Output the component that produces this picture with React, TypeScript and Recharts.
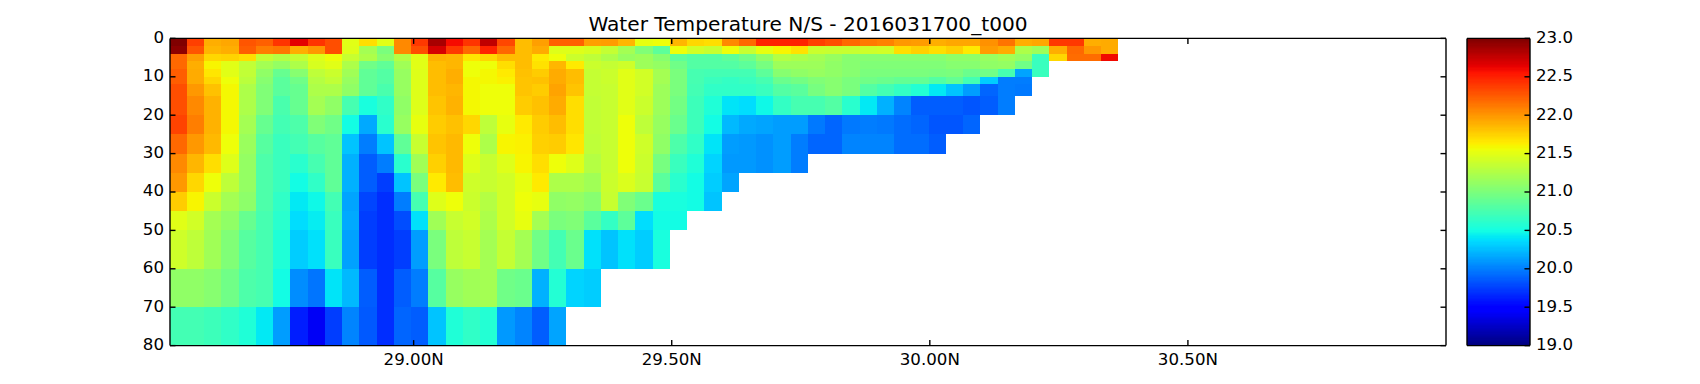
import { ComposedChart, XAxis, YAxis, ReferenceArea, Line } from "recharts";

const FONT = "DejaVu Sans";
const title = "Water Temperature N/S - 2016031700_t000";

// layer boundaries of the model, metres
const depthEdges = [0, 2, 4, 6, 8, 10, 12, 15, 20, 25, 30, 35, 40, 45, 50, 60, 70, 80];
const firstLat = 28.528;
const lastLat = 31;
const cellOrigin = 28.5271;
const latStep = 0.03342;

const latTicks = [29, 29.5, 30, 30.5];
const depthTicks = [0, 10, 20, 30, 40, 50, 60, 70, 80];
const tempTicks = [19, 19.5, 20, 20.5, 21, 21.5, 22, 22.5, 23];

// temperature per latitude column, top layer first; columns end at the sea floor
const col00 = [23.0, 22.95, 22.2, 22.2, 22.25, 22.25, 22.3, 22.3, 22.35, 22.2, 22.05, 22.0, 21.77, 21.5, 21.4, 21.1, 20.72];
const col01 = [22.37, 22.27, 21.96, 21.9, 21.92, 21.92, 22.0, 22.05, 22.1, 22.0, 21.87, 21.72, 21.6, 21.42, 21.32, 21.1, 20.72];
const col02 = [21.9, 21.87, 21.72, 21.6, 21.67, 21.72, 21.82, 21.88, 21.88, 21.85, 21.7, 21.55, 21.38, 21.2, 21.18, 21.05, 20.7];
const col03 = [21.93, 21.9, 21.75, 21.5, 21.5, 21.55, 21.58, 21.58, 21.58, 21.55, 21.47, 21.32, 21.2, 21.1, 21.02, 20.95, 20.63];
const col04 = [22.28, 22.25, 21.7, 21.33, 21.33, 21.3, 21.25, 21.25, 21.2, 21.15, 21.12, 21.12, 21.08, 20.9, 20.82, 20.78, 20.56];
const col05 = [22.23, 22.1, 21.35, 21.2, 21.1, 21.05, 21.02, 21.02, 20.9, 20.82, 20.78, 20.78, 20.78, 20.75, 20.75, 20.75, 20.42];
const col06 = [22.42, 22.13, 21.28, 21.12, 20.9, 20.83, 20.83, 20.76, 20.72, 20.68, 20.68, 20.68, 20.63, 20.6, 20.56, 20.5, 20.12];
const col07 = [22.65, 21.9, 21.35, 21.25, 21.05, 20.95, 20.9, 20.9, 20.78, 20.72, 20.6, 20.5, 20.42, 20.36, 20.3, 20.05, 19.62];
const col08 = [22.42, 22.0, 21.47, 21.45, 21.32, 21.28, 21.24, 21.2, 21.02, 20.82, 20.75, 20.63, 20.47, 20.43, 20.38, 19.96, 19.42];
const col09 = [22.3, 22.3, 21.55, 21.5, 21.38, 21.33, 21.24, 21.1, 20.95, 20.87, 20.87, 20.87, 20.72, 20.68, 20.68, 20.4, 19.75];
const col10 = [21.5, 21.47, 21.36, 21.24, 21.18, 21.14, 21.1, 20.75, 20.5, 20.28, 20.2, 20.2, 20.15, 20.17, 20.14, 20.22, 20.03];
const col11 = [21.7, 21.2, 21.24, 20.95, 20.87, 20.87, 20.87, 20.52, 20.17, 20.0, 19.87, 19.87, 19.78, 19.75, 19.75, 19.87, 19.85];
const col12 = [21.5, 21.0, 21.05, 20.87, 20.8, 20.8, 20.76, 20.63, 20.6, 20.28, 20.0, 19.75, 19.68, 19.68, 19.68, 19.68, 19.68];
const col13 = [22.05, 22.05, 21.28, 21.18, 21.14, 21.14, 21.14, 21.1, 21.14, 20.87, 20.6, 20.28, 20.0, 19.8, 19.75, 19.87, 19.9];
const col14 = [22.4, 22.3, 21.5, 21.5, 21.47, 21.47, 21.47, 21.47, 21.52, 21.36, 21.18, 21.0, 20.75, 20.38, 20.12, 20.0, 19.87];
const col15 = [22.85, 22.7, 21.88, 21.84, 21.84, 21.84, 21.84, 21.8, 21.78, 21.8, 21.76, 21.65, 21.47, 21.18, 21.0, 20.82, 20.27];
const col16 = [22.58, 22.4, 21.86, 21.86, 21.9, 21.9, 21.87, 21.88, 21.82, 21.85, 21.85, 21.84, 21.55, 21.36, 21.32, 21.14, 20.56];
const col17 = [22.42, 22.2, 21.67, 21.55, 21.55, 21.58, 21.58, 21.58, 21.72, 21.56, 21.47, 21.4, 21.38, 21.42, 21.36, 21.18, 20.64];
const col18 = [22.78, 22.5, 21.72, 21.55, 21.58, 21.58, 21.55, 21.55, 21.32, 21.25, 21.36, 21.36, 21.28, 21.24, 21.2, 21.2, 20.57];
const col19 = [22.33, 22.2, 21.84, 21.7, 21.65, 21.62, 21.56, 21.56, 21.52, 21.6, 21.48, 21.42, 21.42, 21.42, 21.35, 20.95, 20.1];
const col20 = [21.84, 21.84, 21.84, 21.84, 21.82, 21.8, 21.8, 21.78, 21.65, 21.62, 21.6, 21.53, 21.55, 21.52, 21.2, 20.92, 20.03];
const col21 = [21.96, 21.92, 21.65, 21.68, 21.78, 21.82, 21.78, 21.82, 21.78, 21.76, 21.7, 21.65, 21.53, 21.2, 20.95, 20.2, 19.87];
const col22 = [22.23, 21.47, 21.55, 21.87, 21.92, 21.92, 21.94, 21.92, 21.84, 21.78, 21.55, 21.25, 21.1, 21.0, 20.72, 20.57, 20.15];
const col23 = [22.23, 21.47, 21.38, 21.65, 21.84, 21.84, 21.8, 21.7, 21.7, 21.67, 21.48, 21.25, 21.12, 21.02, 20.92, 20.33];
const col24 = [21.96, 21.45, 21.32, 21.38, 21.35, 21.35, 21.35, 21.33, 21.33, 21.32, 21.28, 21.18, 21.05, 20.83, 20.38, 20.3];
const col25 = [21.97, 21.35, 21.25, 21.35, 21.38, 21.38, 21.36, 21.36, 21.37, 21.36, 21.36, 21.38, 21.36, 20.65, 20.27];
const col26 = [21.87, 21.2, 21.13, 21.4, 21.5, 21.5, 21.5, 21.5, 21.55, 21.55, 21.55, 21.46, 21.02, 20.85, 20.38];
const col27 = [21.52, 21.02, 21.17, 21.17, 21.42, 21.42, 21.42, 21.38, 21.32, 21.4, 21.38, 21.36, 20.92, 20.36, 20.3];
const col28 = [21.55, 20.85, 21.05, 21.12, 21.2, 21.2, 21.17, 21.17, 21.13, 21.1, 20.97, 20.83, 20.52, 20.5, 20.52];
const col29 = [21.87, 21.55, 20.85, 20.95, 21.0, 21.0, 21.0, 20.96, 20.92, 20.78, 20.68, 20.6, 20.53, 20.5];
const col30 = [21.72, 21.42, 20.8, 20.8, 20.75, 20.75, 20.72, 20.7, 20.7, 20.63, 20.56, 20.5, 20.5];
const col31 = [21.7, 21.36, 20.8, 20.8, 20.72, 20.68, 20.64, 20.56, 20.5, 20.4, 20.33, 20.3, 20.27];
const col32 = [22.05, 21.55, 20.85, 20.8, 20.72, 20.65, 20.63, 20.4, 20.22, 20.12, 20.1, 20.15];
const col33 = [22.2, 21.36, 20.95, 20.85, 20.72, 20.68, 20.63, 20.37, 20.17, 20.1, 20.1];
const col34 = [22.5, 21.52, 21.1, 20.97, 20.85, 20.75, 20.68, 20.48, 20.15, 20.07, 20.07];
const col35 = [22.5, 21.6, 21.28, 21.17, 21.05, 20.92, 20.8, 20.65, 20.12, 20.12, 20.12];
const col36 = [22.5, 21.68, 21.25, 21.17, 21.1, 20.96, 20.84, 20.75, 20.12, 20.0, 20.0];
const col37 = [22.37, 21.38, 21.2, 21.17, 21.13, 21.02, 20.97, 20.75, 19.97, 19.9];
const col38 = [22.3, 21.36, 21.13, 21.1, 21.1, 21.05, 21.05, 20.8, 19.9, 19.9];
const col39 = [22.2, 21.36, 21.05, 21.05, 21.05, 21.0, 21.0, 20.6, 19.97, 20.03];
const col40 = [22.12, 21.4, 21.05, 21.03, 21.0, 20.95, 20.8, 20.42, 20.0, 20.03];
const col41 = [22.08, 21.42, 21.05, 21.03, 21.0, 20.92, 20.72, 20.2, 19.97, 20.03];
const col42 = [22.0, 21.7, 21.05, 21.03, 21.0, 20.88, 20.65, 20.03, 19.93, 19.93];
const col43 = [21.97, 21.76, 21.05, 21.03, 21.0, 20.88, 20.57, 19.87, 19.9, 19.93];
const col44 = [21.9, 21.7, 21.05, 21.03, 20.98, 20.8, 20.42, 19.87, 19.84, 19.87];
const col45 = [21.93, 21.76, 21.1, 21.05, 21.0, 20.88, 20.27, 19.87, 19.84];
const col46 = [21.93, 21.65, 21.1, 21.05, 20.92, 20.72, 20.12, 19.84, 19.9];
const col47 = [22.03, 21.97, 21.13, 21.1, 20.95, 20.3, 19.9, 19.87];
const col48 = [22.15, 21.92, 21.18, 21.12, 20.75, 20.0, 20.0, 20.0];
const col49 = [21.9, 21.25, 21.12, 20.95, 20.15, 20.0, 19.97];
const col50 = [21.93, 21.17, 20.68, 20.68, 20.68];
const col51 = [22.4, 21.9, 21.72];
const col52 = [22.4, 22.2, 22.18];
const col53 = [21.9, 22.0, 22.18];
const col54 = [21.92, 21.92, 22.6];

const columns = [
  col00, col01, col02, col03, col04, col05, col06, col07, col08, col09, col10,
  col11, col12, col13, col14, col15, col16, col17, col18, col19, col20, col21,
  col22, col23, col24, col25, col26, col27, col28, col29, col30, col31, col32,
  col33, col34, col35, col36, col37, col38, col39, col40, col41, col42, col43,
  col44, col45, col46, col47, col48, col49, col50, col51, col52, col53, col54,
];

const V_MIN = 19;
const V_MAX = 23;

// matplotlib's jet segments
const JET_R = [[0, 0], [0.35, 0], [0.66, 1], [0.89, 1], [1, 0.5]];
const JET_G = [[0, 0], [0.125, 0], [0.375, 1], [0.64, 1], [0.91, 0], [1, 0]];
const JET_B = [[0, 0.5], [0.11, 1], [0.34, 1], [0.65, 0], [1, 0]];

function segment(stops: number[][], t: number) {
  for (let i = 1; i < stops.length; i++) {
    if (t <= stops[i][0]) {
      const [x0, y0] = stops[i - 1];
      const [x1, y1] = stops[i];
      return y0 + ((t - x0) / (x1 - x0)) * (y1 - y0);
    }
  }
  return stops[stops.length - 1][1];
}

function jet(value: number) {
  const t = Math.min(1, Math.max(0, (value - V_MIN) / (V_MAX - V_MIN)));
  const level = Math.floor(t * 255.999) / 255;
  const c = (stops: number[][]) => Math.round(segment(stops, level) * 255);
  return `rgb(${c(JET_R)},${c(JET_G)},${c(JET_B)})`;
}

const barLevels = Array.from({ length: 256 }, (_, i) => i);
const tickStyle = { fontSize: 16.67, fill: "#000", fontFamily: FONT };
const yTickStyle = { ...tickStyle, dy: -1.5 };
const lineStyle = { stroke: "#000", strokeWidth: 1.4 };
const noLabel = () => "";

// the axes only draw once the chart has data, the two corners are enough
const sectionCorners = [
  { lat: firstLat, depth: 0 },
  { lat: lastLat, depth: 80 },
];
const barCorners = [
  { x: 0, temp: V_MIN },
  { x: 1, temp: V_MAX },
];

export default function App() {
  return (
    <div style={{ position: "absolute", left: 0, top: 0, width: 1700, height: 384, background: "#fff" }}>
      <div
        style={{
          position: "absolute",
          left: 170,
          width: 1276,
          top: 12,
          textAlign: "center",
          fontFamily: FONT,
          fontSize: 20.15,
          color: "#000",
          whiteSpace: "pre",
        }}
      >
        {title}
      </div>

      <div style={{ position: "absolute", left: 0, top: 0 }}>
        <ComposedChart data={sectionCorners} width={1500} height={384} margin={{ top: 37.4, right: 53, bottom: 8.4, left: 110 }}>
          <XAxis
            type="number"
            dataKey="lat"
            domain={[firstLat, lastLat]}
            ticks={latTicks}
            interval={0}
            height={30}
            tickSize={-5.5}
            tickMargin={13.5}
            tick={tickStyle}
            axisLine={lineStyle}
            tickLine={lineStyle}
            tickFormatter={(v: number) => `${v.toFixed(2)}N`}
          />
          <XAxis
            xAxisId="top"
            orientation="top"
            type="number"
            dataKey="lat"
            domain={[firstLat, lastLat]}
            ticks={latTicks}
            interval={0}
            height={1}
            tickSize={-5.5}
            tickFormatter={noLabel}
            axisLine={lineStyle}
            tickLine={lineStyle}
          />
          <YAxis
            type="number"
            dataKey="depth"
            reversed
            domain={[0, 80]}
            ticks={depthTicks}
            interval={0}
            width={60}
            tickSize={-5.5}
            tickMargin={11.5}
            tick={yTickStyle}
            axisLine={lineStyle}
            tickLine={lineStyle}
          />
          <YAxis
            yAxisId="right"
            orientation="right"
            type="number"
            dataKey="depth"
            reversed
            domain={[0, 80]}
            ticks={depthTicks}
            interval={0}
            width={1}
            tickSize={-5.5}
            tickFormatter={noLabel}
            axisLine={lineStyle}
            tickLine={lineStyle}
          />
          <Line dataKey="depth" stroke="none" dot={false} activeDot={false} isAnimationActive={false} />
          {columns.map((col, c) =>
            col.map((temp, r) => (
              <ReferenceArea
                key={`${c}-${r}`}
                x1={Math.max(firstLat, cellOrigin + c * latStep)}
                x2={cellOrigin + (c + 1) * latStep}
                y1={depthEdges[r]}
                y2={depthEdges[r + 1]}
                fill={jet(temp)}
                fillOpacity={1}
                stroke="none"
                shapeRendering="crispEdges"
              />
            ))
          )}
        </ComposedChart>
      </div>

      <div style={{ position: "absolute", left: 1440, top: 0 }}>
        <ComposedChart data={barCorners} width={260} height={384} margin={{ top: 37.4, right: 110, bottom: 37.4, left: 26 }}>
          <XAxis
            type="number"
            dataKey="x"
            domain={[0, 1]}
            ticks={[]}
            height={1}
            tick={false}
            tickLine={false}
            axisLine={lineStyle}
          />
          <XAxis
            xAxisId="top"
            orientation="top"
            type="number"
            dataKey="x"
            domain={[0, 1]}
            ticks={[]}
            height={1}
            tick={false}
            tickLine={false}
            axisLine={lineStyle}
          />
          <YAxis
            yAxisId="left"
            type="number"
            dataKey="temp"
            domain={[V_MIN, V_MAX]}
            ticks={tempTicks}
            width={1}
            tick={false}
            tickLine={false}
            axisLine={lineStyle}
          />
          <YAxis
            orientation="right"
            type="number"
            dataKey="temp"
            domain={[V_MIN, V_MAX]}
            ticks={tempTicks}
            interval={0}
            width={60}
            tickSize={-5.5}
            tickMargin={11.5}
            tick={{ ...yTickStyle, textAnchor: "start" }}
            axisLine={lineStyle}
            tickLine={lineStyle}
            tickFormatter={(v: number) => v.toFixed(1)}
          />
          <Line dataKey="temp" stroke="none" dot={false} activeDot={false} isAnimationActive={false} />
          {barLevels.map((l) => (
            <ReferenceArea
              key={l}
              x1={0}
              x2={1}
              y1={V_MIN + (l / 256) * (V_MAX - V_MIN)}
              y2={V_MIN + ((l + 1) / 256) * (V_MAX - V_MIN)}
              fill={jet(V_MIN + ((l + 0.5) / 256) * (V_MAX - V_MIN))}
              fillOpacity={1}
              stroke="none"
              shapeRendering="crispEdges"
            />
          ))}
        </ComposedChart>
      </div>
    </div>
  );
}
